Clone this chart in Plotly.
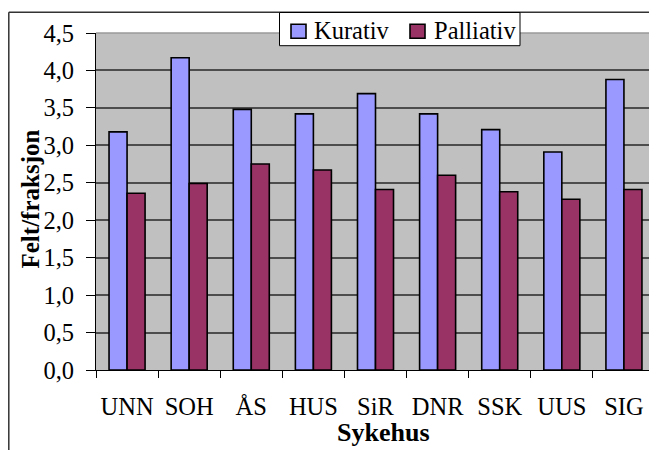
import plotly.graph_objects as go

sykehus = ["UNN", "SOH", "ÅS", "HUS", "SiR", "DNR", "SSK", "UUS", "SIG"]
kurativ = [3.18, 4.17, 3.48, 3.42, 3.69, 3.42, 3.21, 2.91, 3.88]
palliativ = [2.36, 2.49, 2.75, 2.67, 2.41, 2.60, 2.38, 2.28, 2.41]
series_names = ["Kurativ", "Palliativ"]
series_colors = ["#9999FF", "#993366"]

FONT = "Liberation Serif, Times New Roman, serif"

fig = go.Figure()
for name, vals, col in zip(series_names, [kurativ, palliativ], series_colors):
    fig.add_trace(go.Bar(x=sykehus, y=vals, name=name, showlegend=False,
                         marker=dict(color=col, line=dict(color="black", width=1.6))))

# page has an 8px body margin; work in page px and convert
O = 8
L, R, T, B = 96 - O, 655 - O, 33 - O, 370 - O
W, H = 657, 450
pw, ph = R - L, B - T

def px_x(x):  # page px -> paper
    return (x - O - L) / pw

def px_y(y):
    return (B - (y - O)) / ph

def rect(x0, y0, x1, y1, fill, lc, lw):
    return dict(type="rect", xref="paper", yref="paper",
                x0=px_x(x0), x1=px_x(x1), y0=px_y(y1), y1=px_y(y0),
                fillcolor=fill, line=dict(color=lc, width=lw))

shapes = [
    # plot area top and right border
    dict(type="line", xref="paper", yref="paper", x0=0, x1=1, y0=1, y1=1,
         line=dict(color="#9a9a9a", width=1.5)),
    dict(type="line", xref="paper", yref="paper", x0=1, x1=1, y0=0, y1=1,
         line=dict(color="#808080", width=2)),
    # outer chart border (left and top)
    dict(type="line", xref="paper", yref="paper", x0=px_x(8.8), x1=px_x(8.8),
         y0=px_y(12.3), y1=px_y(470), line=dict(color="#333333", width=1.5)),
    dict(type="line", xref="paper", yref="paper", x0=px_x(8.8), x1=px_x(680),
         y0=px_y(12.3), y1=px_y(12.3), line=dict(color="#333333", width=1.5)),
    # legend box
    rect(279.5, 12.5, 520, 45.7, "white", "black", 1),
]

annotations = []
legend_sq_x = [291, 410]
legend_txt_x = [312, 432]
for name, col, sx, tx in zip(series_names, series_colors, legend_sq_x, legend_txt_x):
    shapes.append(rect(sx, 24.3, sx + 15, 38.3, col, "black", 1.6))
    annotations.append(dict(text=name, xref="paper", yref="paper",
                            x=px_x(tx), y=px_y(30.5), xanchor="left", yanchor="middle",
                            showarrow=False, font=dict(family=FONT, size=24.5, color="black")))

# axis titles
annotations.append(dict(text="<b>Felt/fraksjon</b>", xref="paper", yref="paper",
                        x=px_x(30), y=px_y(199.5), xanchor="center", yanchor="middle",
                        textangle=-90, showarrow=False,
                        font=dict(family=FONT, size=25, color="black")))
annotations.append(dict(text="<b>Sykehus</b>", xref="paper", yref="paper",
                        x=px_x(383), y=px_y(433), xanchor="center", yanchor="middle",
                        showarrow=False,
                        font=dict(family=FONT, size=26, color="black")))

fig.update_layout(
    width=W, height=H,
    margin=dict(l=L, r=W - R, t=T, b=H - B, autoexpand=False),
    paper_bgcolor="white",
    plot_bgcolor="#C0C0C0",
    separators=",.",
    barmode="group",
    bargap=0.42,
    bargroupgap=0,
    font=dict(family=FONT, size=24.5, color="black"),
    showlegend=False,
    xaxis=dict(
        type="category",
        tickson="boundaries",
        tickangle=0,
        automargin=False,
        ticks="outside", ticklen=7, tickcolor="black", tickwidth=1,
        showline=True, linecolor="black", linewidth=1.2,
        showgrid=False,
        tickfont=dict(family=FONT, size=24.5, color="black"),
        ticklabelstandoff=14,
    ),
    yaxis=dict(
        range=[0, 4.5], dtick=0.5, tick0=0, tickformat=".1f",
        automargin=False,
        ticks="outside", ticklen=9, tickcolor="black", tickwidth=1,
        showline=True, linecolor="black", linewidth=1.2,
        showgrid=True, gridcolor="#4d4d4d", gridwidth=1.5,
        zeroline=False,
        tickfont=dict(family=FONT, size=24.5, color="black"),
        ticklabelstandoff=7,
    ),
    shapes=shapes,
    annotations=annotations,
)

fig.write_html("out.html")
